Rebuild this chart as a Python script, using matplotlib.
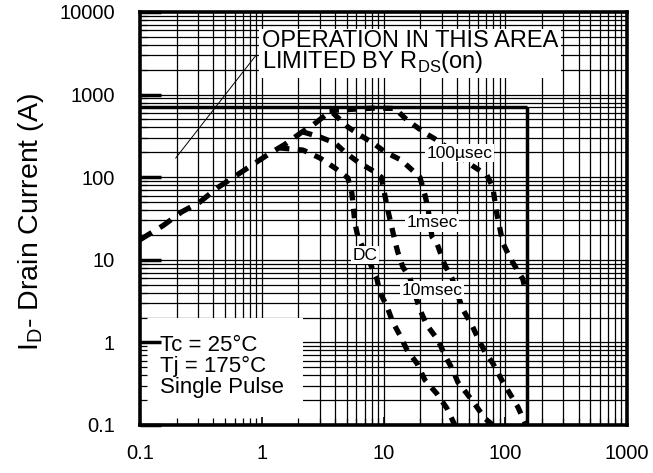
import matplotlib
matplotlib.use('Agg')
import matplotlib.pyplot as plt
from matplotlib.patches import Rectangle

plt.rcParams['font.family'] = ['Liberation Sans', 'DejaVu Sans']

# safe operating area
rds_v = [0.1, 0.155, 0.22, 0.31, 0.43, 0.60, 0.83, 1.17, 1.55, 2.14, 2.63, 3.6]
rds_i = [17.5, 26, 38, 50, 74, 102, 140, 195, 250, 352, 427, 617]

us100_v = [3.6, 8, 12.4, 15.6, 21.9, 27.4, 54, 70.6, 79, 85, 95.5, 109, 127, 139, 148]
us100_i = [640, 685, 680, 492, 343, 282, 137, 106, 76, 37, 16, 10.7, 7.3, 5.9, 4.1]

ms1_v = [3.84, 5.1, 6.4, 8.2, 10.3, 14, 19.9, 21.9, 23.2, 25, 27.4, 31.9, 36.5,
         44.9, 53.2, 59.6, 68, 79, 93.7, 109, 127, 148]
ms1_i = [599, 405, 324, 259, 202, 161, 100, 61, 42, 19, 16, 8.6, 6.0,
         2.5, 1.62, 1.13, 0.77, 0.56, 0.35, 0.24, 0.165, 0.1]

ms10_v = [2.18, 3.0, 4.0, 4.8, 6.16, 8.0, 9.6, 10.7, 12.4, 13.1, 14.4, 16.5,
          19.9, 22.7, 28, 31.9, 37.2, 40.8, 48.4, 58.5, 68, 79]
ms10_i = [353, 307, 259, 202, 153, 122, 100, 44, 17, 12.4, 8.2, 6.0,
          2.5, 1.62, 1.07, 0.70, 0.46, 0.33, 0.24, 0.165, 0.12, 0.1]

dc_v = [1.41, 2.18, 3.0, 4.0, 5.1, 5.5, 5.82, 6.16, 8.0, 8.8, 9.3, 10.7, 11.9,
        13.6, 15.6, 18.8, 21.9, 27.4, 33.1, 38.5]
dc_i = [226, 213, 171, 129, 98, 64, 28, 19, 8.2, 6.0, 4.1, 2.7, 1.77,
        1.23, 0.81, 0.56, 0.35, 0.24, 0.16, 0.1]

i_max = 700      # package current limit
v_max = 150      # drain-source voltage limit

x_ticks = [0.1, 1, 10, 100, 1000]
x_labels = ['0.1', '1', '10', '100', '1000']
y_ticks = [0.1, 1, 10, 100, 1000, 10000]
y_labels = ['0.1', '1', '10', '100', '1000', '10000']

fig = plt.figure(figsize=(6.53, 4.73), dpi=100)
ax = fig.add_axes([140 / 653, 1 - 425 / 473, 487 / 653, 413 / 473])
ax.set_xscale('log')
ax.set_yscale('log')
ax.set_xlim(0.1, 1000)
ax.set_ylim(0.1, 10000)
ax.set_axisbelow(False)

# full log grid, drawn by hand so the text boxes can hide parts of it
for d in range(-1, 3):
    for k in range(1, 10):
        v = k * 10.0 ** d
        if 0.1 < v < 1000:
            ax.axvline(v, color='k', lw=0.9, zorder=1)
for d in range(-1, 4):
    for k in range(1, 10):
        v = k * 10.0 ** d
        if 0.1 < v < 10000:
            ax.axhline(v, color='k', lw=0.9, zorder=1)

# white patch behind the conditions text
ax.add_patch(Rectangle((0, 0), 0.335, 0.26, transform=ax.transAxes,
                       facecolor='white', edgecolor='none', zorder=1.2))

ax.hlines(i_max, 0.1, v_max, color='k', lw=2.5, zorder=3)
ax.vlines(v_max, 0.1, i_max, color='k', lw=2.5, zorder=3)

ax.plot(rds_v, rds_i, color='k', lw=3.8, ls=(0, (2.6, 1.8)), zorder=3)
for v, i in [(us100_v, us100_i), (ms1_v, ms1_i), (ms10_v, ms10_i), (dc_v, dc_i)]:
    ax.plot(v, i, color='k', lw=3.8, ls=(0, (1.8, 1.6)), zorder=3)

box = dict(facecolor='white', edgecolor='none', pad=1)
ax.text(42, 196, '100\u00b5sec', fontsize=12.5, ha='center', va='center', bbox=box, zorder=4)
ax.text(25, 28, '1msec', fontsize=12.5, ha='center', va='center', bbox=box, zorder=4)
ax.text(25, 4.3, '10msec', fontsize=12.5, ha='center', va='center', bbox=box, zorder=4)
ax.text(7.0, 11.4, 'DC', fontsize=12.5, ha='center', va='center', bbox=box, zorder=4)

ax.text(1.0, 3200, 'OPERATION IN THIS AREA\n' + r'LIMITED BY R$_{\mathregular{DS}}$(on)',
        fontsize=17, ha='left', va='center', linespacing=0.85,
        bbox=dict(facecolor='white', edgecolor='none', pad=2), zorder=4)
ax.annotate('', xy=(0.19, 160), xytext=(0.93, 3200),
            arrowprops=dict(arrowstyle='-', lw=0.7, color='k'), zorder=4)

ax.text(0.041, 0.142, 'Tc = 25\u00b0C\nTj = 175\u00b0C\nSingle Pulse', transform=ax.transAxes,
        fontsize=16, ha='left', va='center', linespacing=0.98, zorder=4)

ax.set_xticks(x_ticks)
ax.set_xticklabels(x_labels)
ax.set_yticks(y_ticks)
ax.set_yticklabels(y_labels)
ax.tick_params(which='both', direction='in', top=False, right=False,
               labelsize=14.5, colors='k')
ax.tick_params(axis='x', which='major', length=6, width=1.2, pad=14)
ax.tick_params(axis='y', which='major', length=15, width=2.5, pad=18)
ax.tick_params(which='minor', length=5, width=0.9, labelleft=False, labelbottom=False)

for s in ax.spines.values():
    s.set_linewidth(2.6)
    s.set_zorder(5)

fig.text(31 / 653, 1 - 222 / 473, r'I$_{\mathregular{D}}$- Drain Current (A)', fontsize=20.5,
         rotation=90, ha='center', va='center')

plt.savefig('out.png', dpi=100)
